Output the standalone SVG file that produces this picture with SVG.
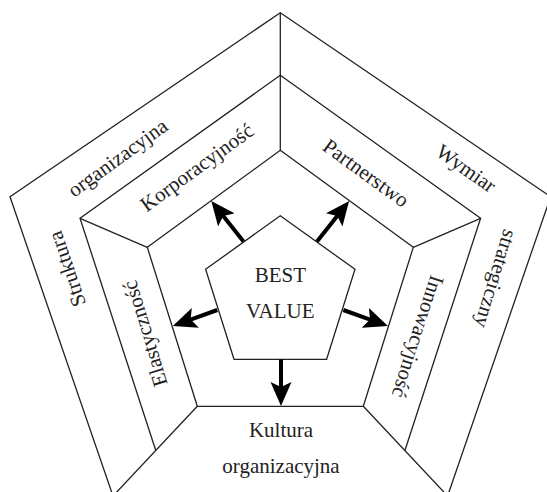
<svg xmlns="http://www.w3.org/2000/svg" width="547" height="492" viewBox="0 0 547 492">
<defs>
<style>
.ln{fill:none;stroke:#222;stroke-width:1.3;stroke-linejoin:miter}
.lb{font-family:"Liberation Serif","DejaVu Serif",serif;font-size:21px;fill:#222;text-anchor:middle}
.ar{stroke:#000;stroke-width:4;fill:none}
</style>
<marker id="ah" markerUnits="userSpaceOnUse" viewBox="0 -11 24 22" refX="8" refY="0" markerWidth="24" markerHeight="22" orient="auto">
<path d="M0,-10.5 L24,0 L0,10.5 L5,0 Z" fill="#000"/>
</marker>
</defs>
<rect width="547" height="492" fill="#fff"/>
<g id="frame">
<path class="ln" d="M280.3,12.7 L550.6,196.7 L447.6,496 L113,496 L10,196.7 Z"/>
<path class="ln" d="M155.7,450.3 L80,218.3 L280.3,75.3 L480.6,218.3 L405,450.3"/>
<path class="ln" d="M280.3,150.3 L413.3,247.3 L363.3,406.3 L197.3,406.3 L147.3,247.3 Z"/>
<path class="ln" d="M280.3,12.7 V150.3 M147.3,247.3 L80,218.3 M413.3,247.3 L480.6,218.3 M197.3,406.3 L113,496 M363.3,406.3 L447.6,496"/>
</g>
<g id="struktura">
<text class="lb" transform="translate(67,269) rotate(-109)" y="7">Struktura</text>
<text class="lb" transform="translate(120,161) rotate(-36)" y="3">organizacyjna</text>
</g>
<g id="wymiar">
<text class="lb" transform="translate(465,170) rotate(35)" y="5">Wymiar</text>
<text class="lb" transform="translate(493,278) rotate(107)" y="4">strategiczny</text>
</g>
<g id="korporacyjnosc">
<text class="lb" transform="translate(198,169) rotate(-36)" y="5">Korporacyjność</text>
</g>
<g id="partnerstwo">
<text class="lb" transform="translate(366,173) rotate(36)" y="7">Partnerstwo</text>
</g>
<g id="elastycznosc">
<text class="lb" transform="translate(147,333) rotate(-107)" y="5">Elastyczność</text>
</g>
<g id="innowacyjnosc">
<text class="lb" transform="translate(416,336) rotate(108)" y="5">Innowacyjność</text>
</g>
<g id="kultura">
<text class="lb" x="281" y="437">Kultura</text>
<text class="lb" x="281" y="473">organizacyjna</text>
</g>
<g id="best-value">
<path class="ln" d="M280.3,215.7 L355,269.3 L326.6,359.3 L234,359.3 L205.6,269.3 Z" fill="#fff"/>
<text class="lb" x="280.3" y="282">BEST</text>
<text class="lb" x="280.3" y="318">VALUE</text>
</g>
<g id="connectors">
<line class="ar" x1="243.5" y1="241.5" x2="221.3" y2="213.6" marker-end="url(#ah)"/>
<line class="ar" x1="317" y1="241.5" x2="339.2" y2="213.6" marker-end="url(#ah)"/>
<line class="ar" x1="217.3" y1="310" x2="187.8" y2="320.6" marker-end="url(#ah)"/>
<line class="ar" x1="343.3" y1="310" x2="372.9" y2="320.6" marker-end="url(#ah)"/>
<line class="ar" x1="281" y1="359.3" x2="281" y2="390" marker-end="url(#ah)"/>
</g>
</svg>
